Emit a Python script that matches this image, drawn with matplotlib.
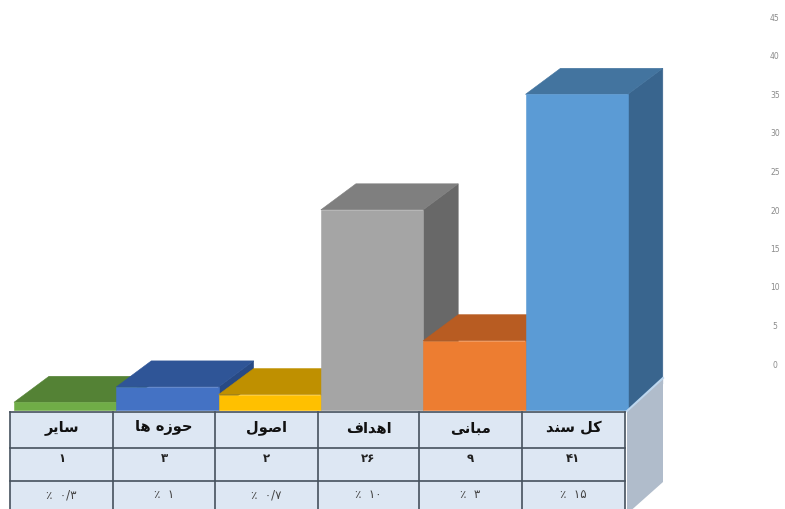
"""Столбчатая диаграмма с псевдо-3D и таблицей под ней."""
import unicodedata

import matplotlib
matplotlib.use("Agg")
import matplotlib.pyplot as plt
from matplotlib.patches import Polygon, Rectangle

categories = ["سایر", "حوزه ها", "اصول", "اهداف", "مبانی", "کل سند"]
values = [1, 3, 2, 26, 9, 41]
count_labels = ["۱", "۳", "۲", "۲۶", "۹", "۴۱"]
percent_labels = ["۰/۳", "۱", "۰/۷", "۱۰", "۳", "۱۵"]
y_ticks = [0, 5, 10, 15, 20, 25, 30, 35, 40, 45]

front_colors = ["#70ad47", "#4472c4", "#ffc000", "#a5a5a5", "#ed7d31", "#5b9bd5"]
top_colors = ["#548235", "#2f5597", "#bf9000", "#7f7f7f", "#b85c22", "#43749f"]
side_colors = ["#3f6328", "#284a85", "#8f6c00", "#686868", "#a04f1d", "#39658e"]

W, H = 785, 510
PX_PER_UNIT = 7.7     # пикселей на единицу значения
BASE_PX = 410         # y нуля столбцов
BAR_W = 102.3
LEFT_PX = 14
DX = 35 / BAR_W       # глубина в единицах категорий
DY = 26 / PX_PER_UNIT
NON_JOINING = set("اآدذرزژو")


def shape(text):
    # у matplotlib нет шейпинга арабицы: берём формы представления и обратный порядок
    out = []
    for word in text.split(" "):
        forms = []
        for i, ch in enumerate(word):
            prev_joins = i > 0 and word[i - 1] not in NON_JOINING
            next_joins = i < len(word) - 1 and ch not in NON_JOINING
            form = {(0, 0): "ISOLATED", (1, 0): "FINAL", (0, 1): "INITIAL", (1, 1): "MEDIAL"}[(int(prev_joins), int(next_joins))]
            forms.append(unicodedata.lookup(f"{unicodedata.name(ch)} {form} FORM"))
        out.append("".join(reversed(forms)))
    return " ".join(reversed(out))


def px_x(px):
    return (px - LEFT_PX) / BAR_W


def px_y(px):
    return (BASE_PX - px) / PX_PER_UNIT


fig = plt.figure(figsize=(W / 100, H / 100), dpi=100)
ax = fig.add_axes([0, 0, 1, 1])
ax.set_xlim(px_x(0), px_x(W))
ax.set_ylim(px_y(H - 1), px_y(-1))
ax.axis("off")

# столбцы: слева направо, следующий перекрывает предыдущий
for i, v in enumerate(values):
    ax.add_patch(Polygon([(i + 1, 0), (i + 1 + DX, DY), (i + 1 + DX, v + DY), (i + 1, v)],
                         fc=side_colors[i], ec=side_colors[i], lw=0.4))
    ax.add_patch(Polygon([(i, v), (i + DX, v + DY), (i + 1 + DX, v + DY), (i + 1, v)],
                         fc=top_colors[i], ec=top_colors[i], lw=0.4))
    ax.add_patch(Rectangle((i, 0), 1, v, fc=front_colors[i], ec=front_colors[i], lw=0.4))

# таблица
col_px = [10, 113, 215, 318, 419, 522, 625]
row_px = [412, 448, 481, 513]
ax.add_patch(Polygon([(px_x(627), px_y(411)), (px_x(663), px_y(378)), (px_x(663), px_y(482)), (px_x(627), px_y(514))],
                     fc="#b0bccb", ec="none"))
ax.plot([px_x(627), px_x(663)], [px_y(411), px_y(378)], color="#bcd6ee", lw=1.5)
ax.add_patch(Rectangle((px_x(col_px[0]), px_y(row_px[-1])), px_x(col_px[-1]) - px_x(col_px[0]),
                       px_y(row_px[0]) - px_y(row_px[-1]), fc="#dde7f3", ec="none"))
for c in col_px:
    ax.plot([px_x(c), px_x(c)], [px_y(row_px[0]), px_y(row_px[-1])], color="#46525e", lw=1.2)
for r in row_px[:-1]:
    ax.plot([px_x(col_px[0]), px_x(col_px[-1])], [px_y(r), px_y(r)], color="#46525e", lw=1.2)

for i in range(len(categories)):
    xc = px_x((col_px[i] + col_px[i + 1]) / 2)
    ax.text(xc, px_y(427), shape(categories[i]), ha="center", va="center", fontsize=10.5,
            fontweight="bold", color="#111111", family="DejaVu Sans")
    ax.text(xc, px_y(458), count_labels[i], ha="center", va="center", fontsize=8.5,
            fontweight="bold", color="#222222", family="DejaVu Sans")
    ax.text(xc, px_y(494), f"٪  {percent_labels[i]}", ha="center", va="center", fontsize=8.5,
            color="#444444", family="DejaVu Sans")

# подписи шкалы смещены относительно основания столбцов
for t in y_ticks:
    ax.text(px_x(775), t + px_y(364), str(t), ha="center", va="center", fontsize=5.5, color="#8a8a8a")

fig.savefig("out.png", dpi=100)
